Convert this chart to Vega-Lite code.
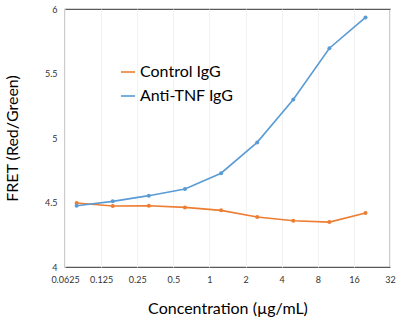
{
  "$schema": "https://vega.github.io/schema/vega-lite/v6.json",
  "width": 325,
  "height": 258,
  "autosize": "none",
  "padding": {"left": 65, "top": 9, "right": 19, "bottom": 60},
  "background": "white",
  "config": {
    "view": {"stroke": "#595959", "strokeWidth": 1.2},
    "font": "Lato"
  },
  "data": {
    "values": [
      {"conc": 0.078125, "series": "Control IgG", "fret": 4.496},
      {"conc": 0.15625, "series": "Control IgG", "fret": 4.473},
      {"conc": 0.3125, "series": "Control IgG", "fret": 4.475},
      {"conc": 0.625, "series": "Control IgG", "fret": 4.462},
      {"conc": 1.25, "series": "Control IgG", "fret": 4.439},
      {"conc": 2.5, "series": "Control IgG", "fret": 4.387},
      {"conc": 5, "series": "Control IgG", "fret": 4.358},
      {"conc": 10, "series": "Control IgG", "fret": 4.348},
      {"conc": 20, "series": "Control IgG", "fret": 4.418},
      {"conc": 0.078125, "series": "Anti-TNF IgG", "fret": 4.475},
      {"conc": 0.15625, "series": "Anti-TNF IgG", "fret": 4.509},
      {"conc": 0.3125, "series": "Anti-TNF IgG", "fret": 4.553},
      {"conc": 0.625, "series": "Anti-TNF IgG", "fret": 4.605},
      {"conc": 1.25, "series": "Anti-TNF IgG", "fret": 4.727},
      {"conc": 2.5, "series": "Anti-TNF IgG", "fret": 4.966},
      {"conc": 5, "series": "Anti-TNF IgG", "fret": 5.299},
      {"conc": 10, "series": "Anti-TNF IgG", "fret": 5.696},
      {"conc": 20, "series": "Anti-TNF IgG", "fret": 5.935}
    ]
  },
  "mark": {"type": "line", "strokeWidth": 1.6, "point": {"size": 16, "filled": true}},
  "encoding": {
    "x": {
      "field": "conc",
      "type": "quantitative",
      "scale": {"type": "log", "base": 2, "domain": [0.0625, 32], "nice": false},
      "axis": {
        "values": [0.0625, 0.125, 0.25, 0.5, 1, 2, 4, 8, 16, 32],
        "format": "~g",
        "title": "Concentration (µg/mL)",
        "titleFont": "Lato",
        "titleFontSize": 16,
        "titleFontWeight": "normal",
        "titleColor": "#000",
        "titlePadding": 16,
        "labelFont": "Lato",
        "labelFontSize": 9,
        "labelColor": "#333",
        "labelPadding": 8,
        "ticks": false,
        "domain": false,
        "grid": true,
        "gridColor": "#f2f2f2",
        "labelFlush": false
      }
    },
    "y": {
      "field": "fret",
      "type": "quantitative",
      "scale": {"domain": [4, 6], "nice": false, "zero": false},
      "axis": {
        "values": [4, 4.5, 5, 5.5, 6],
        "format": "~g",
        "title": "FRET (Red/Green)",
        "titleFont": "Lato",
        "titleFontSize": 16,
        "titleFontWeight": "normal",
        "titleColor": "#000",
        "titlePadding": 24,
        "labelFont": "Lato",
        "labelFontSize": 9,
        "labelColor": "#333",
        "labelPadding": 8,
        "ticks": false,
        "domain": false,
        "grid": false
      }
    },
    "color": {
      "field": "series",
      "type": "nominal",
      "scale": {"domain": ["Control IgG", "Anti-TNF IgG"], "range": ["#ED7D31", "#5B9BD5"]},
      "legend": {
        "title": null,
        "orient": "none",
        "legendX": 55,
        "legendY": 55,
        "labelFont": "Lato",
        "labelFontSize": 16,
        "labelColor": "#000",
        "rowPadding": 8,
        "symbolType": "stroke",
        "symbolSize": 200,
        "symbolStrokeWidth": 1.6
      }
    }
  }
}
